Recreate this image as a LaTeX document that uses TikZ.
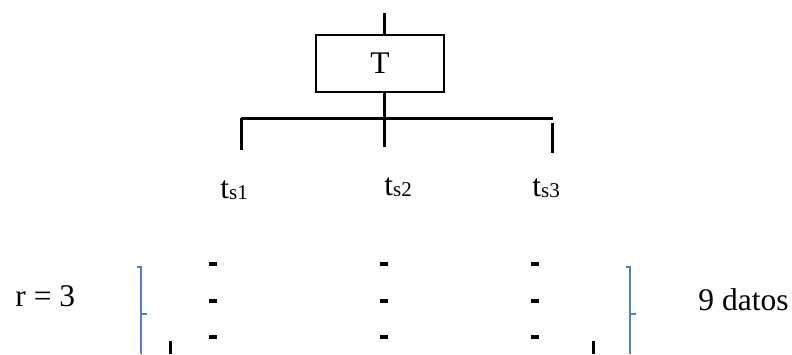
\documentclass[tikz,border=0pt]{standalone}
\usepackage{fontspec}
\setmainfont{Liberation Serif}
\usetikzlibrary{
	positioning
}
\definecolor{azulllave}{RGB}{79,129,189}
\tikzset{
	x=0.5pt,
	y=-0.5pt,
	every node/.style={
		font=\fontsize{15.75}{19}\selectfont,
		inner sep=0pt
	},
	rama/.style={
		line width=1.5pt
	},
	caja/.style={
		draw,
		line width=1.2pt,
		minimum width=64pt,
		minimum height=28.5pt
	},
	dato/.style={
		fill=black,
		minimum width=4pt,
		minimum height=1.6pt
	},
	llave/.style={
		draw=azulllave,
		line width=1pt
	}
}
\newcommand{\tsub}[1]{t\raisebox{-0.5pt}{\fontsize{10.5}{12}\selectfont s#1}}

\begin{document}
\begin{tikzpicture}
		\useasboundingbox (0,0) rectangle (792,354);
		\path
			node[caja]             (T)      at (380,63.5) {T}
			coordinate             (arriba) at (384,13)
			coordinate             (union)  at (384,118)
			coordinate             (izq)    at (241,118)
			coordinate             (der)    at (553,118)
			coordinate             (piei)   at (241,150)
			coordinate             (piem)   at (384,147)
			coordinate             (cabd)   at (552,123)
			coordinate             (pied)   at (552,153)
			node[anchor=base west] (ts1)    at (220,198) {\tsub{1}}
			node[anchor=base west] (ts2)    at (384,195) {\tsub{2}}
			node[anchor=base west] (ts3)    at (532,196) {\tsub{3}}
			node[anchor=base west] (r)      at (15,306)  {r = 3}
			node[anchor=base west] (datos)  at (698,310) {9 datos}
		;
		\draw[rama]
			(arriba) -- (T.north -| arriba)
			(T.south -| arriba) -- (union)
			(izq) -- (der)
			(izq) -- (piei)
			(union) -- (piem)
			(cabd) -- (pied)
			(170,341) -- (170,354)
			(593,341) -- (593,354)
		;
		\foreach \cx in {213,384,535}
			\foreach \cy in {264,301,337}
				\node[dato] (d-\cx-\cy) at (\cx,\cy) {};
		\draw[llave] (137,267) -- (141,267) -- (141,354) (141,314) -- (147,314);
		\draw[llave] (626,267) -- (630,267) -- (630,354) (630,314) -- (636,314);
	\end{tikzpicture}
\end{document}
